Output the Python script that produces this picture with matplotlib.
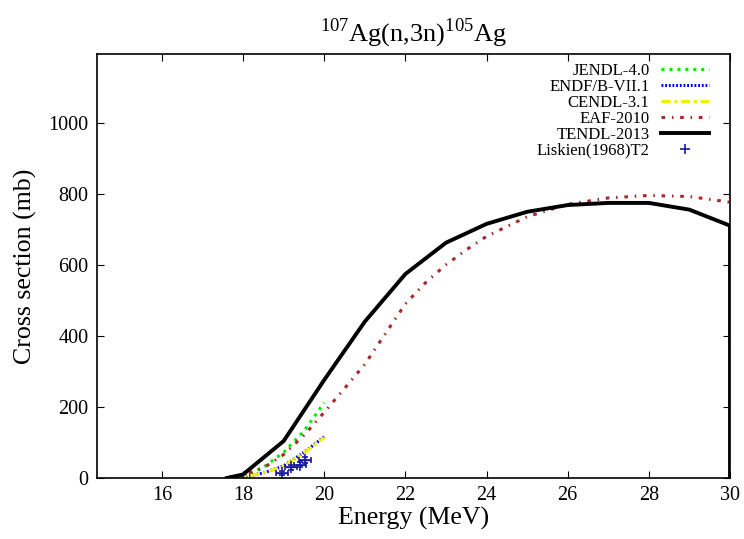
import matplotlib
matplotlib.use("Agg")
import matplotlib.pyplot as plt
import numpy as np

plt.rcParams["font.family"] = ["Liberation Serif", "DejaVu Serif"]
plt.rcParams["mathtext.fontset"] = "custom"
plt.rcParams["mathtext.rm"] = "Liberation Serif"

# JENDL-4.0
e_jendl = [17.8, 18.0, 18.5, 19.0, 19.5, 20.0]
xs_jendl = [0, 5, 30, 72, 132, 212]
# ENDF/B-VII.1
e_endf = [17.7, 18.0, 18.5, 19.0, 19.5, 20.0]
xs_endf = [0, 3, 14, 34, 72, 116]
# CENDL-3.1
e_cendl = [17.7, 18.0, 18.5, 19.0, 19.5, 20.0]
xs_cendl = [0, 3, 14, 33, 71, 114]
# EAF-2010
e_eaf = [17.7, 18.0, 18.5, 19.0, 19.5, 20.0, 20.5, 21.0, 21.5, 22.0, 22.5,
         23.0, 23.5, 24.0, 25.0, 26.0, 27.0, 28.0, 29.0, 30.0]
xs_eaf = [0, 8, 28, 66, 120, 185, 252, 320, 405, 490, 550,
          600, 642, 680, 735, 770, 788, 795, 792, 776]
# TENDL-2013
e_tendl = [17.6, 18.0, 19.0, 20.0, 21.0, 22.0, 23.0, 24.0, 25.0, 26.0,
           27.0, 28.0, 29.0, 30.0, 30.0]
xs_tendl = [0, 10, 104, 276, 440, 574, 662, 715, 749, 768,
            774, 774, 755, 710, 0]
# Liskien(1968)T2
e_exp = [18.95, 19.19, 19.40, 19.52]
xs_exp = [15, 30, 37, 51]
de_exp = [0.15, 0.15, 0.15, 0.15]
dxs_exp = [6, 7, 7, 8]

fig = plt.figure(figsize=(7.44, 5.39), dpi=100)
ax = fig.add_axes([0.1304, 0.1132, 0.8508, 0.7866])

ax.plot(e_jendl, xs_jendl, color="#00ee00", lw=2.2, ls=(0, (1, 1.6)), label="JENDL-4.0")
ax.plot(e_endf, xs_endf, color="#0000ff", lw=2.2, ls=(0, (0.6, 0.6)), label="ENDF/B-VII.1")
ax.plot(e_cendl, xs_cendl, color="#f0f000", lw=2.2, ls=(0, (3, 1.2, 1, 1.2)), label="CENDL-3.1")
ax.plot(e_eaf, xs_eaf, color="#a52a2a", lw=2.2, ls=(0, (1.2, 2.2, 0.5, 2.2)), label="EAF-2010")
ax.plot(e_tendl, xs_tendl, color="black", lw=2.8, label="TENDL-2013")
ax.errorbar(e_exp, xs_exp, xerr=de_exp, yerr=dxs_exp, fmt="+", color="#1a1aa0",
            ms=8, mew=1.2, elinewidth=1.0, capsize=2)
ax.plot([], [], "+", color="#1a1aa0", ms=7, mew=1.2, label="Liskien(1968)T2")

ax.set_xlim(14.4, 30)
ax.set_ylim(0, 1193)
ax.set_xticks([16, 18, 20, 22, 24, 26, 28, 30])
ax.set_yticks([0, 200, 400, 600, 800, 1000])
ax.tick_params(direction="in", top=True, right=True, length=5, labelsize=14.5, pad=6)
for s in ax.spines.values():
    s.set_linewidth(1.2)

ax.set_xlabel("Energy (MeV)", fontsize=18.6, labelpad=1)
ax.set_ylabel("Cross section (mb)", fontsize=18.6, labelpad=8)
ax.set_title("$^{107}$Ag(n,3n)$^{105}$Ag", fontsize=19, pad=9)

leg = ax.legend(loc="upper right", bbox_to_anchor=(0.978, 0.995), frameon=False,
                markerfirst=False, fontsize=12, labelspacing=0.0,
                handlelength=2.9, handletextpad=0.7, borderaxespad=0)

fig.savefig("out.png", dpi=100)
